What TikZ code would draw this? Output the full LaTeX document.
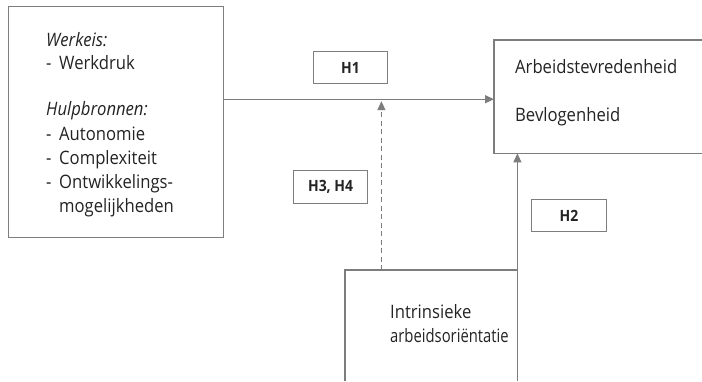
\documentclass[tikz,border=0pt]{standalone}
\usepackage{fontspec}
\usepackage{graphicx}
\setmainfont{Open Sans}[FakeStretch=0.9]
\usetikzlibrary{arrows.meta,calc}
\definecolor{linegray}{RGB}{125,125,125}
\definecolor{txt}{RGB}{35,35,35}
\newcommand{\bodyfont}{\fontsize{18.5}{24}\selectfont}
\newcommand{\lblfont}{\fontsize{15.5}{18}\selectfont\bfseries}
\newcommand{\dashitem}[1]{\makebox[13pt][l]{-}#1}
\begin{document}
\begin{tikzpicture}[x=1pt,y=-1pt,
  box/.style={draw=linegray,line width=1.3pt,rectangle,inner sep=0pt,anchor=north west},
  openbox/.style={draw=none,rectangle,inner sep=0pt,anchor=north west},
  lbl/.style={draw=linegray,line width=1.1pt,rectangle,inner sep=0pt,anchor=north west,font=\lblfont,text=txt},
  txtnode/.style={font=\bodyfont,text=txt,inner sep=0pt,anchor=base west},
  edge/.style={draw=linegray,line width=1.3pt,-{Triangle[length=9pt,width=8pt]}},
  side/.style={draw=linegray,line width=1.3pt}]
\useasboundingbox (0,0) rectangle (702,381);
% boxes
\node[box,minimum width=215pt,minimum height=231pt] (work) at (8,6) {};
\node[openbox,minimum width=208pt,minimum height=113pt] (res) at (494,40) {};
\node[openbox,minimum width=172pt,minimum height=111pt] (mod) at (345,270) {};
\draw[side] (res.north east) -- (res.north west) -- (res.south west) -- (res.south east);
\draw[side] (mod.south west) -- (mod.north west) -- (mod.north east) -- (mod.south east);
% texts in left box
\node[txtnode] (w1) at (46,46) {\textit{Werkeis:}};
\node[txtnode] (w2) at (46,69) {\dashitem{Werkdruk}};
\node[txtnode] (w3) at (46,115) {\textit{Hulpbronnen:}};
\node[txtnode] (w4) at (46,140) {\dashitem{Autonomie}};
\node[txtnode] (w5) at (46,164) {\dashitem{Complexiteit}};
\node[txtnode] (w6) at (46,188) {\dashitem{Ontwikkelings-}};
\node[txtnode] (w7) at (59,212) {mogelijkheden};
% texts in right box
\node[txtnode] (r1) at (515,73) {Arbeidstevredenheid};
\node[txtnode] (r2) at (515,121) {Bevlogenheid};
% texts in bottom box
\node[txtnode] (m1) at (390,318) {Intrinsieke};
\node[txtnode] (m2) at (390,342) {\scalebox{0.89}[1]{arbeidsoriëntatie}};
% labels
\node[lbl,minimum width=74pt,minimum height=32pt] (h1) at (313,51) {H1};
\node[lbl,minimum width=74pt,minimum height=33pt] (h34) at (293,170) {H3, H4};
\node[lbl,minimum width=75pt,minimum height=32pt] (h2) at (531,199) {H2};
% connectors
\draw[edge] ([yshift=-2.5pt]work.east |- res.west) -- ([yshift=-2.5pt]res.west) coordinate[pos=0.5825] (mid);
\draw[edge,dash pattern=on 5pt off 3.5pt] (mod.north -| mid) -- ([yshift=-2pt]mid);
\draw[edge] (mod.north east) -- (mod.north east |- res.south);
\end{tikzpicture}
\end{document}
